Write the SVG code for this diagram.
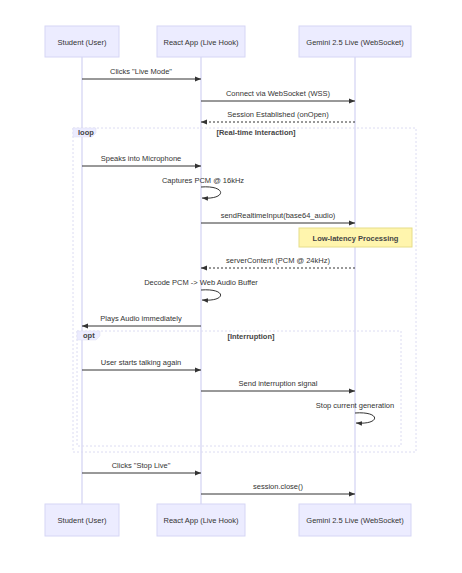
<svg xmlns="http://www.w3.org/2000/svg" width="462" height="573" viewBox="0 0 462 573">
<defs>
<style>
text{font-family:"Liberation Sans","DejaVu Sans",sans-serif;font-size:7.5px;fill:#333;}
.actor{fill:#ECECFF;stroke:#d6d6f5;stroke-width:1;}
.life{stroke:#c9c9f0;stroke-width:1;}
.msg{stroke:#333;stroke-width:1;fill:none;}
.dash{stroke-dasharray:2,2;}
.frame{fill:none;stroke:#dcdcf2;stroke-width:1;stroke-dasharray:2,2;}
.tag{fill:#ECECFF;stroke:#dcdcf2;stroke-width:0.5;}
.note{fill:#fff5ad;stroke:#e6dd8a;stroke-width:1;}
.lbl{font-weight:bold;fill:#444;}
.c{text-anchor:middle;}
</style>
<marker id="ah" viewBox="0 0 10 10" refX="10" refY="5" markerWidth="6" markerHeight="6" orient="auto-start-reverse" markerUnits="userSpaceOnUse">
<path d="M0,1 L10,5 L0,9 z" fill="#333"/>
</marker>
</defs>
<rect width="462" height="573" fill="#ffffff"/>

<g id="lifelines">
<line class="life" x1="82" y1="57" x2="82" y2="504"/>
<line class="life" x1="201" y1="57" x2="201" y2="504"/>
<line class="life" x1="355" y1="57" x2="355" y2="504"/>
</g>

<g id="actor-student">
<rect class="actor" x="45" y="26" width="74" height="31"/>
<text class="c" x="82" y="44.5">Student (User)</text>
<rect class="actor" x="45" y="504" width="74" height="32"/>
<text class="c" x="82" y="523">Student (User)</text>
</g>
<g id="actor-react">
<rect class="actor" x="157" y="26" width="88" height="31"/>
<text class="c" x="201" y="44.5">React App (Live Hook)</text>
<rect class="actor" x="157" y="504" width="88" height="32"/>
<text class="c" x="201" y="523">React App (Live Hook)</text>
</g>
<g id="actor-gemini">
<rect class="actor" x="299" y="26" width="112" height="31"/>
<text class="c" x="355" y="44.5">Gemini 2.5 Live (WebSocket)</text>
<rect class="actor" x="299" y="504" width="112" height="32"/>
<text class="c" x="355" y="523">Gemini 2.5 Live (WebSocket)</text>
</g>

<g id="frame-loop">
<rect class="frame" x="73" y="128" width="343" height="324"/>
<path class="tag" d="M73,128 H96 V133 L92,137 H73 Z"/>
<text class="lbl" x="78" y="135">loop</text>
<text class="c lbl" x="256" y="135">[Real-time Interaction]</text>
</g>
<g id="frame-opt">
<rect class="frame" x="77" y="331" width="324" height="115"/>
<path class="tag" d="M77,331 H100 V336 L96,340 H77 Z"/>
<text class="lbl" x="83" y="338">opt</text>
<text class="c lbl" x="251" y="339">[Interruption]</text>
</g>

<g id="note">
<rect class="note" x="299" y="228" width="113" height="19"/>
<text class="c" x="355.5" y="240.5" style="font-weight:bold;fill:#444">Low-latency Processing</text>
</g>

<g id="connectors">
<line class="msg" x1="82" y1="79" x2="201" y2="79" marker-end="url(#ah)"/>
<text class="c" x="141" y="74">Clicks "Live Mode"</text>

<line class="msg" x1="201" y1="101" x2="355" y2="101" marker-end="url(#ah)"/>
<text class="c" x="278" y="96">Connect via WebSocket (WSS)</text>

<line class="msg dash" x1="355" y1="122" x2="201" y2="122" marker-end="url(#ah)"/>
<text class="c" x="278" y="117">Session Established (onOpen)</text>

<line class="msg" x1="82" y1="166" x2="201" y2="166" marker-end="url(#ah)"/>
<text class="c" x="141" y="161">Speaks into Microphone</text>

<text class="c" x="203" y="183">Captures PCM @ 16kHz</text>
<path class="msg" d="M201,187 C227,185 227,200 202,198" marker-end="url(#ah)"/>

<line class="msg" x1="201" y1="223" x2="355" y2="223" marker-end="url(#ah)"/>
<text class="c" x="278" y="218">sendRealtimeInput(base64_audio)</text>

<line class="msg dash" x1="355" y1="268" x2="201" y2="268" marker-end="url(#ah)"/>
<text class="c" x="278" y="263">serverContent (PCM @ 24kHz)</text>

<text class="c" x="201" y="285">Decode PCM -&gt; Web Audio Buffer</text>
<path class="msg" d="M201,290 C227,288 227,302 202,300" marker-end="url(#ah)"/>

<line class="msg" x1="201" y1="326" x2="82" y2="326" marker-end="url(#ah)"/>
<text class="c" x="141" y="321">Plays Audio immediately</text>

<line class="msg" x1="82" y1="370" x2="201" y2="370" marker-end="url(#ah)"/>
<text class="c" x="141" y="365">User starts talking again</text>

<line class="msg" x1="201" y1="391" x2="355" y2="391" marker-end="url(#ah)"/>
<text class="c" x="278" y="386">Send interruption signal</text>

<text class="c" x="355" y="408">Stop current generation</text>
<path class="msg" d="M355,413 C381,411 381,425 356,423" marker-end="url(#ah)"/>

<line class="msg" x1="82" y1="473" x2="201" y2="473" marker-end="url(#ah)"/>
<text class="c" x="141" y="468">Clicks "Stop Live"</text>

<line class="msg" x1="201" y1="494" x2="355" y2="494" marker-end="url(#ah)"/>
<text class="c" x="278" y="489">session.close()</text>
</g>
</svg>
